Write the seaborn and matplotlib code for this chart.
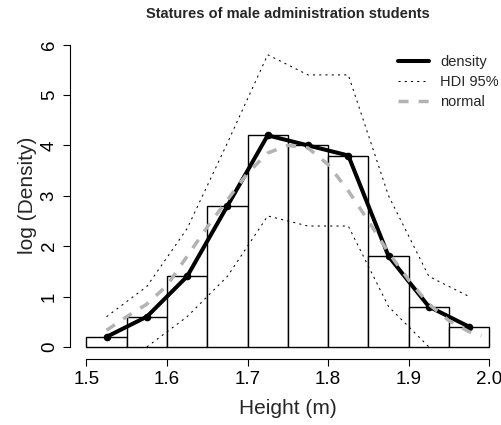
import numpy as np
import pandas as pd
import matplotlib
matplotlib.use('Agg')
import matplotlib.pyplot as plt
from matplotlib.lines import Line2D
import seaborn as sns

# histogram of log density per height bin
bin_edges = [1.50, 1.55, 1.60, 1.65, 1.70, 1.75, 1.80, 1.85, 1.90, 1.95, 2.00]
bin_mids = [1.525, 1.575, 1.625, 1.675, 1.725, 1.775, 1.825, 1.875, 1.925, 1.975]
log_density = [0.2, 0.6, 1.4, 2.8, 4.2, 4.0, 3.8, 1.8, 0.8, 0.4]

# 95% HDI bounds (lower is -inf at both ends)
hdi_upper = [0.6, 1.2, 2.35, 4.05, 5.8, 5.4, 5.4, 3.0, 1.4, 1.0]
hdi_lower = [np.nan, 0.0, 0.6, 1.4, 2.6, 2.4, 2.4, 0.8, 0.0, np.nan]

# fitted normal curve
normal_x = [1.525, 1.55, 1.575, 1.60, 1.625, 1.65, 1.675, 1.70, 1.725, 1.75,
            1.775, 1.80, 1.825, 1.85, 1.875, 1.90, 1.925, 1.95, 1.975, 1.99]
normal_y = [0.33, 0.6, 0.85, 1.22, 1.8, 2.38, 2.92, 3.45, 3.85, 4.0,
            3.95, 3.62, 3.1, 2.5, 1.87, 1.33, 0.85, 0.52, 0.3, 0.22]

sns.set_style('ticks')
plt.rcParams['font.family'] = ['Liberation Sans', 'DejaVu Sans']

fig = plt.figure(figsize=(5.01, 4.25), dpi=100)
# plot region runs past the right edge, like the cropped original
ax = fig.add_axes([70.3 / 501, 66 / 425, 435.1 / 501, 326.4 / 425])

sns.histplot(x=bin_mids, weights=log_density, bins=bin_edges, color='white',
             edgecolor='black', linewidth=1.0, alpha=1, ax=ax)

dotted = (0, (2, 4))
hdi = pd.DataFrame({'x': bin_mids, 'upper': hdi_upper, 'lower': hdi_lower})
sns.lineplot(data=hdi, x='x', y='upper', color='black', lw=0.75,
             linestyle=dotted, estimator=None, ax=ax)
sns.lineplot(data=hdi, x='x', y='lower', color='black', lw=0.75,
             linestyle=dotted, estimator=None, ax=ax)

sns.lineplot(x=bin_mids, y=log_density, color='black', lw=2.9, marker='o',
             markersize=5.5, markeredgewidth=0, estimator=None, ax=ax)

gray = '#b3b3b3'
dashed = (0, (2.9, 2.9))
sns.lineplot(x=normal_x, y=normal_y, color=gray, lw=2.5, linestyle=dashed,
             estimator=None, ax=ax)

ax.set_xlim(1.48, 2.02)
ax.set_ylim(-0.24, 6.24)
ax.set_xticks([1.5, 1.6, 1.7, 1.8, 1.9, 2.0])
ax.set_xticklabels(['1.5', '1.6', '1.7', '1.8', '1.9', '2.0'])
ax.set_yticks([0, 1, 2, 3, 4, 5, 6])
ax.set_yticklabels(['0', '1', '2', '3', '4', '5', '6'], rotation=90, va='center')

for side in ['top', 'right']:
    ax.spines[side].set_visible(False)
ax.spines['left'].set_bounds(0, 6)
ax.spines['bottom'].set_bounds(1.5, 2.0)
for side in ['left', 'bottom']:
    ax.spines[side].set_linewidth(0.8)
    ax.spines[side].set_color('black')
ax.tick_params(axis='both', direction='out', length=5, width=0.8,
               colors='black', labelsize=13.5)
ax.tick_params(axis='x', pad=4)
ax.tick_params(axis='y', pad=4)

ax.set_xlabel('Height (m)', fontsize=15)
ax.set_ylabel('log (Density)', fontsize=15)
ax.xaxis.label.set_va('center')
ax.yaxis.label.set_va('center')
ax.xaxis.set_label_coords(0.5, -0.153)
ax.yaxis.set_label_coords(-0.098, 0.5)

fig.text(287.9 / 501, 1 - 13.5 / 425, 'Statures of male administration students',
         ha='center', va='center', fontsize=10.5, fontweight='bold')

handles = [
    Line2D([], [], color='black', lw=2.9),
    Line2D([], [], color='black', lw=0.75, linestyle=dotted),
    Line2D([], [], color=gray, lw=2.5, linestyle=dashed),
]
ax.legend(handles, ['density', 'HDI 95%', 'normal'], loc='upper left',
          bbox_to_anchor=(398 / 501, 1 - 55 / 425), bbox_transform=fig.transFigure,
          frameon=False, fontsize=10.5, handlelength=2.1, handletextpad=0.8,
          labelspacing=0.42, borderpad=0, borderaxespad=0)

fig.savefig('out.png', dpi=100)
